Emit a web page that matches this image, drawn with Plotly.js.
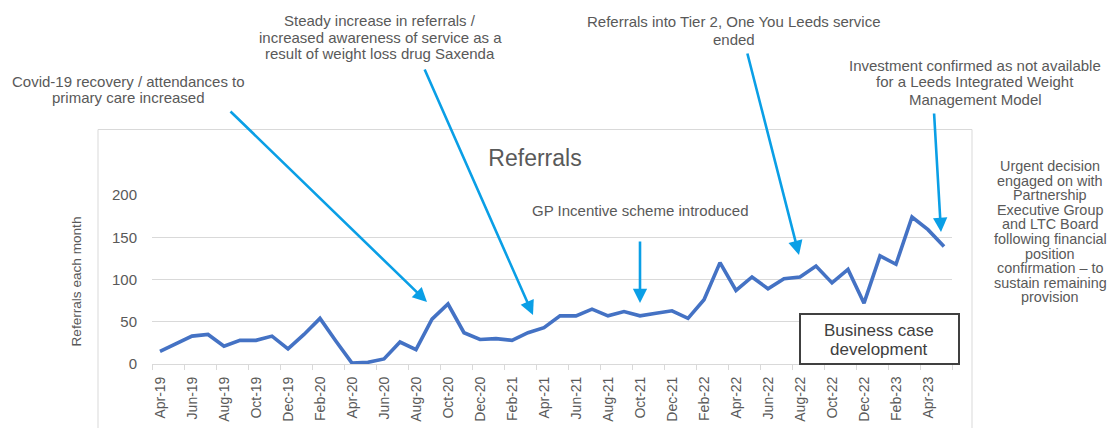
<!DOCTYPE html>
<html>
<head>
<meta charset="utf-8">
<script src="https://cdn.plot.ly/plotly-3.0.1.min.js"></script>
<style>html,body{margin:0;padding:0;background:#fff;}#chart{width:1114px;height:428px;}</style>
</head>
<body>
<div id="chart"></div>
<script>
// ---- data ----
var months = ["Apr-19","May-19","Jun-19","Jul-19","Aug-19","Sep-19","Oct-19","Nov-19","Dec-19",
  "Jan-20","Feb-20","Mar-20","Apr-20","May-20","Jun-20","Jul-20","Aug-20","Sep-20","Oct-20","Nov-20","Dec-20",
  "Jan-21","Feb-21","Mar-21","Apr-21","May-21","Jun-21","Jul-21","Aug-21","Sep-21","Oct-21","Nov-21","Dec-21",
  "Jan-22","Feb-22","Mar-22","Apr-22","May-22","Jun-22","Jul-22","Aug-22","Sep-22","Oct-22","Nov-22","Dec-22",
  "Jan-23","Feb-23","Mar-23","Apr-23","May-23"];
var referrals = [15,24,33,35,21,28,28,33,18,
  35,54,27,1,2,6,26,17,53,71,37,29,
  30,28,37,43,57,57,65,57,62,57,60,63,
  54,76,120,87,103,89,101,103,116,96,112,72,
  128,118,174,159,139];
var yTicks = [0,50,100,150,200];
var chartTitle = "Referrals";
var yTitle = "Referrals each month";

// ---- layout helpers ----
var L = 152, R = 162, T = 195, Bm = 64, W = 1114, Hh = 428;
var PW = W - L - R, PH = Hh - T - Bm, BOT = Hh - Bm;
function xp(px){ return (px - L) / PW; }
function yp(py){ return (BOT - py) / PH; }

var idx = months.map(function(m,i){ return i; });
var labelVals = [], labelText = [], bounds = [];
for (var i = 0; i < months.length; i += 2) { labelVals.push(i); labelText.push(months[i]); }
for (var b = -0.5; b <= months.length - 0.5; b += 2) { bounds.push(b); }

var FONT = "Liberation Sans, Arial, sans-serif";
var GRAY = "#595959";
var ARROW = "#0a9fe6";

var annotations = [];
function textBlock(lines, cx, y0, dy, size, color) {
  lines.forEach(function(t, k){
    annotations.push({xref:"paper", yref:"paper", x: xp(cx), y: yp(y0 + k*dy),
      text: t, showarrow:false, xanchor:"center", yanchor:"middle",
      font:{family:FONT, size:size, color:color || GRAY}});
  });
}
function arrow(tx, ty, hx, hy) {
  annotations.push({xref:"paper", yref:"paper", x: xp(hx), y: yp(hy),
    ax: tx - hx, ay: ty - hy, text:"", showarrow:true,
    arrowhead:2, arrowsize:1.1, arrowwidth:2.6, arrowcolor:ARROW, standoff:0, startstandoff:0});
}

textBlock(["Covid-19 recovery / attendances to","primary care increased"], 128, 81, 17, 15);
textBlock(["Steady increase in referrals /","increased awareness of service as a","result of weight loss drug Saxenda"], 380, 20.5, 16.6, 15);
textBlock(["Referrals into Tier 2, One You Leeds service","ended"], 734, 22, 17, 15);
textBlock(["Investment confirmed as not available","for a Leeds Integrated Weight","Management Model"], 975, 65, 17, 15);
textBlock(["GP Incentive scheme introduced"], 640, 210, 17, 15);
textBlock(["Urgent decision","engaged on with","Partnership","Executive Group","and LTC Board",
  "following financial","position","confirmation \u2013 to","sustain remaining","provision"], 1050, 166, 14.6, 14.4);
textBlock(["Business case","development"], 879, 330, 19.5, 17, "#404040");

arrow(229, 110, 427, 302);
arrow(424, 68, 533, 315);
arrow(640, 240, 640, 303);
arrow(747, 52, 799, 255);
arrow(934, 112, 941, 232);

annotations.push({xref:"paper", yref:"paper", x: xp(75.5), y: yp(282), text: yTitle,
  textangle:-90, showarrow:false, xanchor:"center", yanchor:"middle",
  font:{family:FONT, size:13.6, color:GRAY}});

var shapes = [
  {type:"rect", xref:"paper", yref:"paper", x0: xp(98), x1: xp(972), y0: yp(450), y1: yp(129.5),
   line:{color:"#d9d9d9", width:1}, fillcolor:"rgba(0,0,0,0)", layer:"below"},
  {type:"rect", xref:"paper", yref:"paper", x0: xp(800), x1: xp(959), y0: yp(364), y1: yp(314),
   line:{color:"#404040", width:2}, fillcolor:"#ffffff", layer:"above"}
];

var traces = [
  {x: idx, y: referrals, type:"scatter", mode:"lines",
   line:{color:"#4472c4", width:3.6}, hoverinfo:"x+y", showlegend:false},
  {x: [], y: [], xaxis:"x2", type:"scatter", mode:"lines", showlegend:false}
];

var layout = {
  width: W, height: Hh,
  margin:{l:L, r:R, t:T, b:Bm, pad:0},
  paper_bgcolor:"#ffffff", plot_bgcolor:"#ffffff",
  showlegend:false,
  font:{family:FONT, color:GRAY},
  title:{text: chartTitle, xref:"container", yref:"container", x: 535/W, y: 1 - 158/Hh,
    xanchor:"center", yanchor:"middle", font:{family:FONT, size:23, color:GRAY}},
  xaxis:{range:[-0.5, months.length - 0.5], tickmode:"array", tickvals: labelVals, ticktext: labelText,
    tickangle:-90, ticks:"", showgrid:false, zeroline:false, showline:true, linecolor:"#d9d9d9", linewidth:1,
    tickfont:{family:FONT, size:14, color:GRAY}, ticklabelstandoff:6, fixedrange:true},
  xaxis2:{overlaying:"x", anchor:"y", side:"bottom", range:[-0.5, months.length - 0.5], tickmode:"array",
    tickvals: bounds, ticks:"outside", ticklen:5, tickcolor:"#d9d9d9", tickwidth:1,
    showticklabels:false, showgrid:false, zeroline:false, showline:false},
  yaxis:{range:[0,200], tickmode:"array", tickvals: yTicks, ticks:"", showgrid:true, gridcolor:"#d9d9d9",
    gridwidth:1, zeroline:false, showline:false, tickfont:{family:FONT, size:15, color:GRAY},
    ticklabelstandoff:14, fixedrange:true},
  annotations: annotations,
  shapes: shapes
};

Plotly.newPlot("chart", traces, layout, {displayModeBar:false, staticPlot:true});
</script>
</body>
</html>
